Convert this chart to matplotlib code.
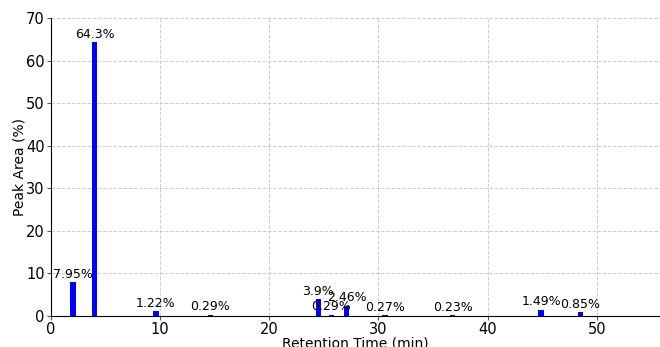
import matplotlib
matplotlib.use("Agg")
import matplotlib.pyplot as plt

# Peak table: retention time (min) and relative peak area (%)
retention_times = [2.0, 4.0, 9.6, 14.6, 24.5, 25.7, 27.1, 30.6, 36.8, 44.9, 48.5]
peak_areas = [7.95, 64.3, 1.22, 0.29, 3.9, 0.29, 2.46, 0.27, 0.23, 1.49, 0.85]
area_labels = ["7.95%", "64.3%", "1.22%", "0.29%", "3.9%", "0.29%", "2.46%",
               "0.27%", "0.23%", "1.49%", "0.85%"]

fig = plt.figure(figsize=(6.6, 3.47), dpi=100)
ax = fig.add_axes([51 / 660, 1 - 316 / 347, 609 / 660, 298 / 347])

ax.bar(retention_times, peak_areas, width=0.5, color="blue", zorder=3)
for x, y, lab in zip(retention_times, peak_areas, area_labels):
    ax.text(x, y + 0.3, lab, ha="center", va="bottom", fontsize=9, zorder=4)

ax.set_xlim(0, 55.8)
ax.set_ylim(0, 70)
ax.set_xticks([0, 10, 20, 30, 40, 50])
ax.set_yticks(range(0, 71, 10))
ax.tick_params(labelsize=10.5, length=3, pad=1.5, color="#555555")
ax.set_xlabel("Retention Time (min)", fontsize=10)
ax.xaxis.set_label_coords(0.5, -0.07)
ax.xaxis.label.set_va("top")
ax.set_ylabel("Peak Area (%)", fontsize=10)
ax.yaxis.set_label_coords(-0.052, 0.5)
ax.yaxis.label.set_va("center")
ax.grid(True, linestyle="--", color="#cccccc", linewidth=0.7, zorder=0)
ax.spines["top"].set_visible(False)
ax.spines["right"].set_visible(False)

fig.savefig("out.png", dpi=100)
